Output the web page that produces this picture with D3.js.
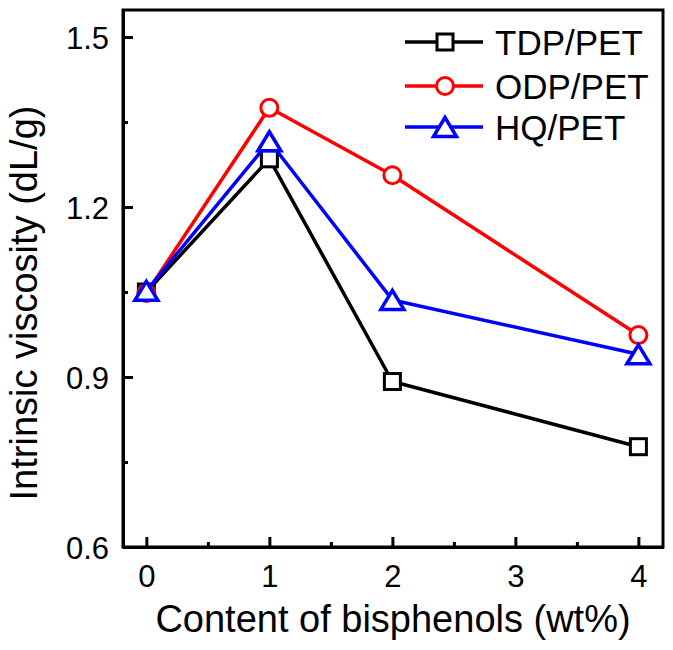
<!DOCTYPE html>
<html>
<head>
<meta charset="utf-8">
<script src="https://cdn.jsdelivr.net/npm/d3@7"></script>
<style>
html,body{margin:0;padding:0;background:#fff;}
svg{display:block;font-family:"Liberation Sans",Arial,Helvetica,sans-serif;}
</style>
</head>
<body>
<svg id="chart" width="673" height="650"></svg>
<script>
const xValues = [0, 1, 2, 4];
const xTickPositions = [0, 1, 2, 3, 4];
const xTickLabels = ["0", "1", "2", "3", "4"];
const tdpValues = [1.05, 1.285, 0.892, 0.777];
const odpValues = [1.048, 1.375, 1.256, 0.974];
const hqValues = [1.052, 1.316, 1.036, 0.94];
const yTicks = [0.6, 0.9, 1.2, 1.5];
const yMinorTicks = [0.75, 1.05, 1.35];
const xMinorTicks = [0.5, 1.5, 2.5, 3.5];
const seriesNames = ["TDP/PET", "ODP/PET", "HQ/PET"];
const seriesColors = ["#000000", "#ff0000", "#0000ff"];
const seriesSymbols = ["square", "circle", "triangle"];

(function(){
const seriesList = [tdpValues, odpValues, hqValues].map((vals, i) => ({
  name: seriesNames[i], color: seriesColors[i], symbol: seriesSymbols[i],
  points: xValues.map((xv, j) => ({x: xv, y: vals[j]}))
}));

const pL = 123, pR = 663, pT = 10, pB = 547;
const svg = d3.select("#chart");
const x = d3.scaleLinear().domain([-0.19, 4.2]).range([pL, pR]);
const y = d3.scaleLinear().domain([0.6, 1.5476]).range([pB, pT]);

svg.append("rect").attr("x", pL).attr("y", pT).attr("width", pR-pL).attr("height", pB-pT)
  .attr("fill", "none").attr("stroke", "#000").attr("stroke-width", 3);

const xAxis = d3.axisBottom(x).tickValues(xTickPositions).tickFormat((d,i) => xTickLabels[i]).tickSizeInner(-10).tickSizeOuter(0).tickPadding(18);
const gx = svg.append("g").attr("transform", `translate(0,${pB})`).call(xAxis);
const xMinor = d3.axisBottom(x).tickValues(xMinorTicks).tickFormat("").tickSizeInner(-5).tickSizeOuter(0);
const gxm = svg.append("g").attr("transform", `translate(0,${pB})`).call(xMinor);

const yAxis = d3.axisLeft(y).tickValues(yTicks).tickFormat(d3.format(".1f")).tickSizeInner(-10).tickSizeOuter(0).tickPadding(14);
const gy = svg.append("g").attr("transform", `translate(${pL},0)`).call(yAxis);
const yMinor = d3.axisLeft(y).tickValues(yMinorTicks).tickFormat("").tickSizeInner(-5).tickSizeOuter(0);
const gym = svg.append("g").attr("transform", `translate(${pL},0)`).call(yMinor);

[gx, gxm, gy, gym].forEach(g => {
  g.select(".domain").attr("stroke", "#000").attr("stroke-width", 3);
  g.selectAll(".tick line").attr("stroke", "#000").attr("stroke-width", 3);
  g.selectAll(".tick text").attr("font-size", 31).attr("fill", "#000")
    .attr("font-family", '"Liberation Sans",Arial,Helvetica,sans-serif');
});
gx.selectAll(".tick text").attr("dy", "0.71em");
gy.selectAll(".tick text").attr("dy", "0.36em");

svg.append("text").attr("x", (pL+pR)/2).attr("y", 632).attr("text-anchor", "middle")
  .attr("font-size", 38).attr("fill", "#000").text("Content of bisphenols (wt%)");
svg.append("text").attr("transform", `translate(37,303) rotate(-90)`).attr("text-anchor", "middle")
  .attr("font-size", 38).attr("fill", "#000").text("Intrinsic viscosity (dL/g)");

function drawSymbol(g, sym, cx, cy, color) {
  if (sym === "square") {
    g.append("rect").attr("x", cx-8).attr("y", cy-8).attr("width", 16).attr("height", 16)
      .attr("fill", "#fff").attr("stroke", color).attr("stroke-width", 3);
  } else if (sym === "circle") {
    g.append("circle").attr("cx", cx).attr("cy", cy).attr("r", 8.5)
      .attr("fill", "#fff").attr("stroke", color).attr("stroke-width", 3);
  } else {
    const w = 11.5, h = 19;
    g.append("path").attr("d", `M${cx},${cy-h/2} L${cx+w},${cy+h/2} L${cx-w},${cy+h/2} Z`)
      .attr("fill", "#fff").attr("stroke", color).attr("stroke-width", 3.5).attr("stroke-linejoin", "miter");
  }
}

const line = d3.line().x(d => x(d.x)).y(d => y(d.y));
seriesList.forEach(s => {
  const g = svg.append("g");
  g.append("path").datum(s.points).attr("d", line).attr("fill", "none")
    .attr("stroke", s.color).attr("stroke-width", 3.5).attr("stroke-linejoin", "round");
  s.points.forEach(p => drawSymbol(g, s.symbol, x(p.x), y(p.y), s.color));
});

const legendRows = [42, 86, 127];
seriesList.forEach((s, i) => {
  const g = svg.append("g");
  const ly = legendRows[i];
  g.append("line").attr("x1", 405).attr("x2", 483).attr("y1", ly).attr("y2", ly)
    .attr("stroke", s.color).attr("stroke-width", 3.5);
  drawSymbol(g, s.symbol, 445, ly, s.color);
  g.append("text").attr("x", 495).attr("y", ly).attr("dy", "0.36em").attr("font-size", 35)
    .attr("fill", "#000").text(s.name);
});
})();
</script>
</body>
</html>
